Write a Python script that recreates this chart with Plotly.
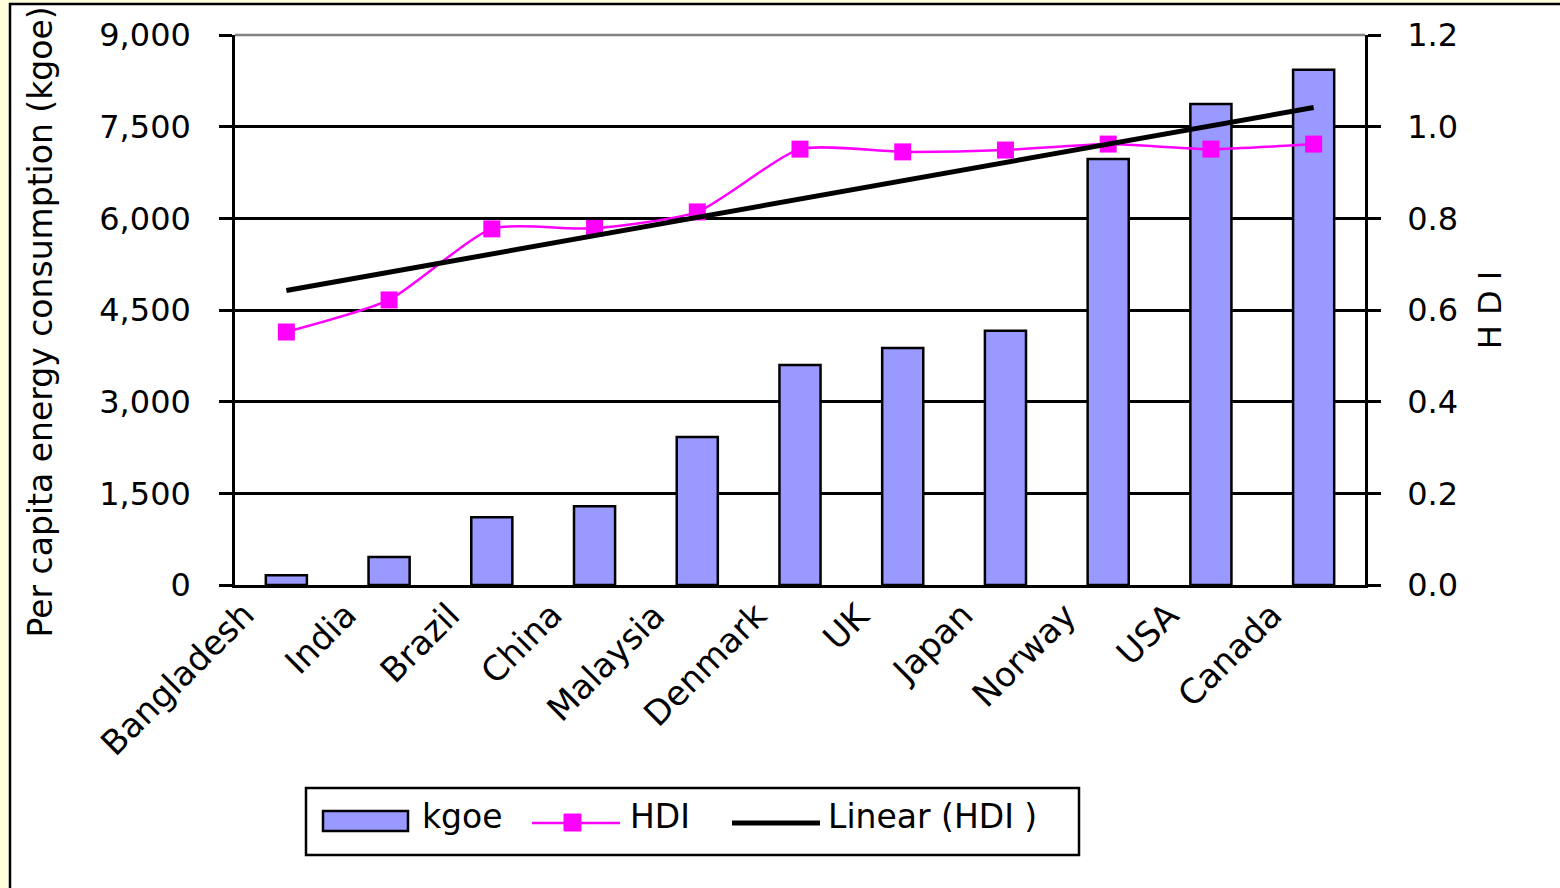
import numpy as np
import plotly.graph_objects as go

countries = ["Bangladesh", "India", "Brazil", "China", "Malaysia", "Denmark",
             "UK", "Japan", "Norway", "USA", "Canada"]
kgoe = [160, 460, 1110, 1290, 2420, 3600, 3880, 4160, 6970, 7870, 8430]
hdi = [0.552, 0.622, 0.777, 0.778, 0.814, 0.951, 0.945, 0.949, 0.962, 0.951, 0.962]
left_ticks = [0, 1500, 3000, 4500, 6000, 7500, 9000]
right_ticks = [0.0, 0.2, 0.4, 0.6, 0.8, 1.0, 1.2]

# least-squares trend of HDI against country rank
idx = np.arange(1, len(hdi) + 1)
slope, intercept = np.polyfit(idx, hdi, 1)
trend = slope * idx + intercept

FONT = "DejaVu Sans, Arial, sans-serif"
FS = 32
BAR_FILL = "#9999FF"
HDI_COLOR = "#FF00FF"
W, H = 1560, 888
L, R, T, B = 235, 195, 35, 303
PW, PH = W - L - R, H - T - B


def px_x(p):
    return (p - L) / PW


def px_y(p):
    return (H - B - p) / PH


fig = go.Figure()
fig.add_trace(go.Bar(
    x=countries, y=kgoe, name="kgoe",
    marker=dict(color=BAR_FILL, line=dict(color="black", width=2.5)),
))
fig.add_trace(go.Scatter(
    x=countries, y=hdi, name="HDI", yaxis="y2", mode="lines+markers",
    line=dict(color=HDI_COLOR, width=2.5, shape="spline", smoothing=0.6),
    marker=dict(symbol="square", size=17, color=HDI_COLOR),
))
fig.add_trace(go.Scatter(
    x=countries, y=trend, name="Linear (HDI )", yaxis="y2", mode="lines",
    line=dict(color="black", width=5),
))

shapes = [
    # outer frame on the pale background
    dict(type="rect", xref="paper", yref="paper", layer="below",
         x0=px_x(10), x1=px_x(W + 40), y0=px_y(H + 40), y1=px_y(4),
         fillcolor="white", line=dict(color="black", width=2.5)),
    # grey top edge of plot area
    dict(type="line", xref="paper", yref="paper", layer="above",
         x0=0, x1=1, y0=1, y1=1, line=dict(color="#808080", width=2.5)),
    # legend box
    dict(type="rect", xref="paper", yref="paper",
         x0=px_x(306), x1=px_x(1079), y0=px_y(855), y1=px_y(788),
         fillcolor="white", line=dict(color="black", width=2.5)),
    # legend: kgoe swatch
    dict(type="rect", xref="paper", yref="paper",
         x0=px_x(323), x1=px_x(408), y0=px_y(831), y1=px_y(811),
         fillcolor=BAR_FILL, line=dict(color="black", width=2.5)),
    # legend: HDI line + marker
    dict(type="line", xref="paper", yref="paper",
         x0=px_x(532), x1=px_x(620), y0=px_y(823), y1=px_y(823),
         line=dict(color=HDI_COLOR, width=2.5)),
    dict(type="rect", xref="paper", yref="paper",
         x0=px_x(564), x1=px_x(581), y0=px_y(831), y1=px_y(814),
         fillcolor=HDI_COLOR, line=dict(color=HDI_COLOR, width=1)),
    # legend: trend line
    dict(type="line", xref="paper", yref="paper",
         x0=px_x(732), x1=px_x(820), y0=px_y(823), y1=px_y(823),
         line=dict(color="black", width=5)),
]

annotations = [
    dict(text="Per capita energy consumption (kgoe)", textangle=-90,
         xref="paper", yref="paper", x=px_x(40), y=px_y(640),
         xanchor="center", yanchor="bottom", showarrow=False,
         font=dict(family=FONT, size=33)),
]
# legend labels
for label, xpos in [("kgoe", 420), ("HDI", 628), ("Linear (HDI )", 826)]:
    annotations.append(dict(
        text=label, xref="paper", yref="paper", x=px_x(xpos), y=px_y(816),
        xanchor="left", yanchor="middle", showarrow=False,
        font=dict(family=FONT, size=FS + 1)))
# slanted category labels under each bar
for c in countries:
    annotations.append(dict(
        text=c, textangle=-45, xref="x", yref="paper", x=c, y=px_y(592),
        xanchor="right", yanchor="top", xshift=-22, showarrow=False,
        font=dict(family=FONT, size=FS + 2)))

fig.update_layout(
    width=W, height=H,
    margin=dict(l=L, r=R, t=T, b=B, autoexpand=False),
    paper_bgcolor="#FEFEDC", plot_bgcolor="rgba(0,0,0,0)",
    font=dict(family=FONT, size=FS, color="black"),
    bargap=0.6,
    showlegend=False,
    xaxis=dict(
        type="category", range=[-0.5, len(countries) - 0.5], autorange=False,
        showgrid=False, showticklabels=False,
        showline=True, linecolor="black", linewidth=2.5, ticks="",
    ),
    yaxis=dict(
        range=[0, 9000], tickvals=left_ticks, tickformat=",d",
        showgrid=True, gridcolor="black", gridwidth=2.5,
        showline=True, linecolor="black", linewidth=2.5,
        ticks="outside", ticklen=13, tickwidth=2.5, tickcolor="black",
        ticklabelstandoff=22, zeroline=False, tickfont=dict(size=FS),
    ),
    yaxis2=dict(
        range=[0, 1.2], tickvals=right_ticks, tickformat=".1f",
        overlaying="y", side="right", showgrid=False,
        showline=True, linecolor="black", linewidth=2.5,
        ticks="outside", ticklen=13, tickwidth=2.5, tickcolor="black",
        ticklabelstandoff=20, zeroline=False, tickfont=dict(size=FS),
        title=dict(text="H D I", font=dict(size=FS), standoff=22),
    ),
    shapes=shapes,
    annotations=annotations,
)

fig.write_html("out.html")
